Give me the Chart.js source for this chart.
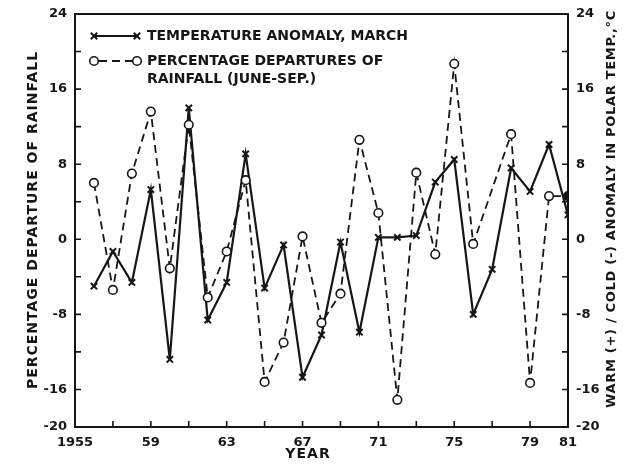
<!DOCTYPE html>
<html>
<head>
<meta charset="utf-8">
<script src="https://cdn.jsdelivr.net/npm/chart.js@4.4.1/dist/chart.umd.min.js"></script>
<style>
  html, body { margin: 0; padding: 0; background: #fff; }
  #chart { display: block; }
</style>
</head>
<body>
<canvas id="chart" width="628" height="471"></canvas>
<script>
// ─── DATA ──────────────────────────────────────────────────────
const years = [1956, 1957, 1958, 1959, 1960, 1961, 1962, 1963, 1964, 1965, 1966, 1967, 1968,
  1969, 1970, 1971, 1972, 1973, 1974, 1975, 1976, 1977, 1978, 1979, 1980, 1981];
const tempAnomaly = [-5.0, -1.3, -4.6, 5.3, -12.8, 14.0, -8.6, -4.6, 9.1, -5.2, -0.6, -14.7, -10.2,
  -0.3, -9.9, 0.2, 0.2, 0.4, 6.1, 8.5, -8.0, -3.2, 7.6, 5.1, 10.1, 2.6];
const rainDeparture = [6.0, -5.4, 7.0, 13.6, -3.1, 12.2, -6.2, -1.3, 6.3, -15.2, -11.0, 0.3, -8.9,
  -5.8, 10.6, 2.8, -17.1, 7.1, -1.6, 18.7, -0.5, null, 11.2, -15.3, 4.6, 4.6];

const xTickYears = [1955, 1959, 1963, 1967, 1971, 1975, 1979, 1981];
const xTickLabels = ["1955", "59", "63", "67", "71", "75", "79", "81"];
const yTickValues = [24, 16, 8, 0, -8, -16, -20];

const tempLabel = "TEMPERATURE ANOMALY, MARCH";
const rainLabel = ["PERCENTAGE DEPARTURES OF", "RAINFALL (JUNE-SEP.)"];
const leftTitle = "PERCENTAGE DEPARTURE OF RAINFALL";
const rightTitle = "WARM (+) / COLD (-) ANOMALY IN POLAR TEMP.,°C";
const xTitle = "YEAR";

const INK = "#161616";
const FONT = "'DejaVu Sans', sans-serif";

// ─── FRAME, INWARD TICKS, TITLES, LEGEND ───────────────────────
const decorations = {
  id: "decorations",
  afterDraw(chart) {
    const { ctx, chartArea: a, scales } = chart;
    const rain = chart.data.datasets.find((d) => d.label === "Rainfall");
    const temp = chart.data.datasets.find((d) => d.label === "Temperature");
    ctx.save();
    ctx.strokeStyle = INK;
    ctx.fillStyle = INK;

    // frame
    ctx.lineWidth = 2;
    ctx.strokeRect(a.left, a.top, a.right - a.left, a.bottom - a.top);

    // inward tick marks
    ctx.lineWidth = 1.6;
    ctx.beginPath();
    scales.x.ticks.forEach((t) => {
      const px = scales.x.getPixelForValue(t.value);
      if (px <= a.left + 1 || px >= a.right - 1) return;
      ctx.moveTo(px, a.bottom);
      ctx.lineTo(px, a.bottom - 6);
    });
    scales.y.ticks.forEach((t) => {
      const py = scales.y.getPixelForValue(t.value);
      if (py <= a.top + 1 || py >= a.bottom - 1) return;
      ctx.moveTo(a.left, py);
      ctx.lineTo(a.left + 6, py);
    });
    scales.y2.ticks.forEach((t) => {
      const py = scales.y2.getPixelForValue(t.value);
      if (py <= a.top + 1 || py >= a.bottom - 1) return;
      ctx.moveTo(a.right, py);
      ctx.lineTo(a.right - 6, py);
    });
    ctx.stroke();

    // axis titles
    ctx.textAlign = "center";
    ctx.textBaseline = "middle";
    ctx.font = "bold 14px " + FONT;
    ctx.letterSpacing = "1px";
    ctx.save();
    ctx.translate(33, 220);
    ctx.rotate(-Math.PI / 2);
    ctx.fillText(leftTitle, 0, 0);
    ctx.restore();

    ctx.font = "bold 13px " + FONT;
    ctx.letterSpacing = "0.7px";
    ctx.save();
    ctx.translate(612, 209);
    ctx.rotate(-Math.PI / 2);
    ctx.fillText(rightTitle, 0, 0);
    ctx.restore();

    ctx.font = "bold 14px " + FONT;
    ctx.letterSpacing = "1px";
    ctx.fillText(xTitle, 308, 454);

    // legend
    const x0 = 94, x1 = 137, textX = 147;
    ctx.lineWidth = temp.borderWidth;
    ctx.setLineDash([]);
    ctx.beginPath();
    ctx.moveTo(x0, 36);
    ctx.lineTo(x1, 36);
    ctx.stroke();
    ctx.lineWidth = temp.pointBorderWidth;
    [x0, x1].forEach((x) => Chart.helpers.drawPoint(ctx,
      { pointStyle: temp.pointStyle, radius: temp.pointRadius, borderWidth: temp.pointBorderWidth, rotation: 0 }, x, 36));

    ctx.lineWidth = rain.borderWidth;
    ctx.setLineDash(rain.borderDash);
    ctx.beginPath();
    ctx.moveTo(x0 + 5, 61);
    ctx.lineTo(x1 - 5, 61);
    ctx.stroke();
    ctx.setLineDash([]);
    ctx.fillStyle = "#fff";
    ctx.lineWidth = rain.pointBorderWidth;
    [x0, x1].forEach((x) => Chart.helpers.drawPoint(ctx,
      { pointStyle: rain.pointStyle, radius: rain.pointRadius, borderWidth: rain.pointBorderWidth, rotation: 0 }, x, 61));

    ctx.fillStyle = INK;
    ctx.textAlign = "left";
    ctx.font = "bold 14px " + FONT;
    ctx.letterSpacing = "0px";
    ctx.fillText(tempLabel, textX, 36);
    ctx.fillText(rainLabel[0], textX, 61);
    ctx.fillText(rainLabel[1], textX, 79);
    ctx.restore();
  },
};

// ─── CHART ─────────────────────────────────────────────────────
const tickFont = { family: FONT, size: 13, weight: "bold" };

function yTick(value) {
  return yTickValues.includes(value) ? String(value) : "";
}

new Chart(document.getElementById("chart"), {
  type: "line",
  data: {
    datasets: [
      {
        label: "Rainfall",
        data: years.map((yr, i) => ({ x: yr, y: rainDeparture[i] })),
        yAxisID: "y",
        borderColor: INK,
        borderWidth: 1.8,
        borderDash: [8, 5],
        pointStyle: "circle",
        pointRadius: 4.3,
        pointBorderWidth: 1.6,
        pointBorderColor: INK,
        pointBackgroundColor: years.map((yr, i) => (i === years.length - 1 ? INK : "#fff")),
        spanGaps: true,
        tension: 0,
      },
      {
        label: "Temperature",
        data: years.map((yr, i) => ({ x: yr, y: tempAnomaly[i] })),
        yAxisID: "y2",
        borderColor: INK,
        borderWidth: 2.2,
        pointStyle: "crossRot",
        pointRadius: 4.5,
        pointBorderWidth: 2,
        pointBorderColor: INK,
        tension: 0,
      },
    ],
  },
  options: {
    responsive: false,
    animation: false,
    layout: { padding: { top: 14, left: 0, right: 0, bottom: 0 } },
    plugins: { legend: { display: false }, tooltip: { enabled: false } },
    scales: {
      x: {
        type: "linear",
        min: 1955,
        max: 1981,
        afterBuildTicks: (s) => {
          const ticks = [];
          for (let yr = 1955; yr <= 1981; yr += 2) ticks.push({ value: yr });
          s.ticks = ticks;
        },
        afterFit: (s) => { s.height = 44; },
        grid: { display: false },
        border: { display: false },
        ticks: {
          color: INK,
          font: tickFont,
          padding: 0,
          maxRotation: 0,
          autoSkip: false,
          callback: (v) => {
            const k = xTickYears.indexOf(v);
            return k >= 0 ? xTickLabels[k] : "";
          },
        },
      },
      y: {
        position: "left",
        min: -20,
        max: 24,
        afterFit: (s) => { s.width = 75; },
        grid: { display: false },
        border: { display: false },
        ticks: { stepSize: 4, color: INK, font: tickFont, padding: 0, autoSkip: false, callback: yTick },
      },
      y2: {
        position: "right",
        min: -20,
        max: 24,
        afterFit: (s) => { s.width = 60; },
        grid: { display: false },
        border: { display: false },
        ticks: { stepSize: 4, color: INK, font: tickFont, padding: 0, autoSkip: false, callback: yTick },
      },
    },
  },
  plugins: [decorations],
});
</script>
</body>
</html>
